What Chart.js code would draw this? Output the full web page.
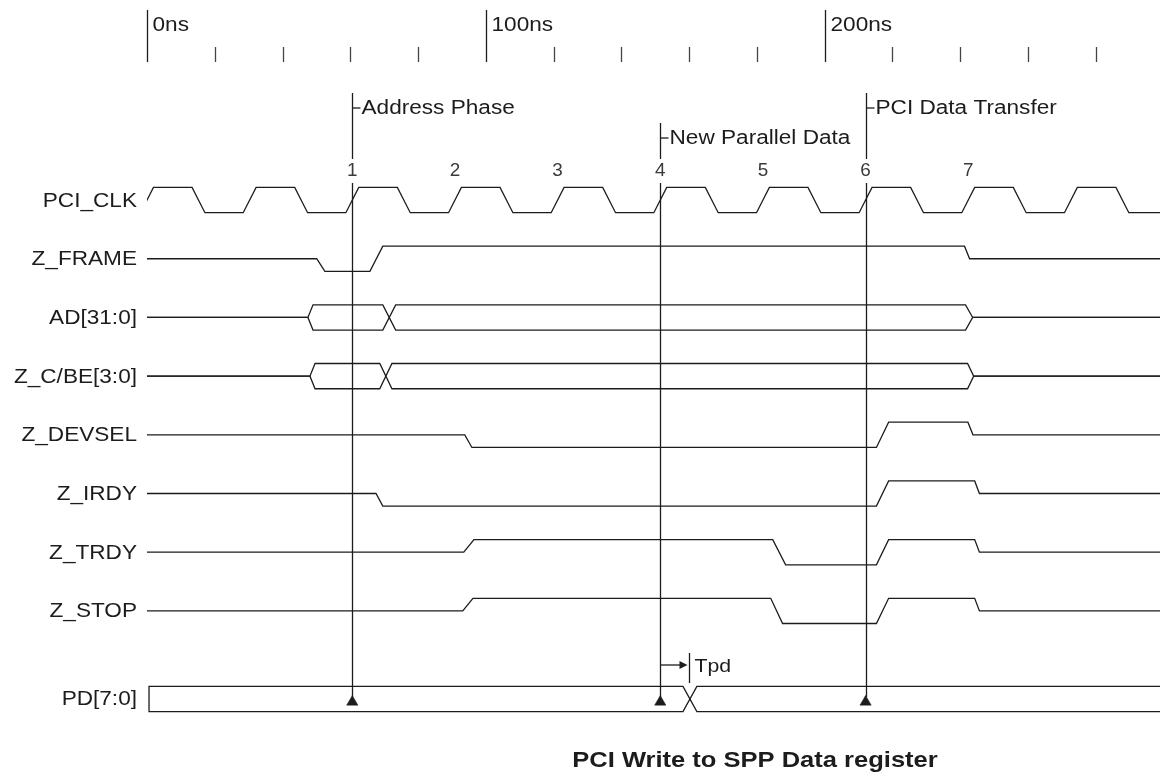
<!DOCTYPE html>
<html>
<head>
<meta charset="utf-8">
<script src="https://cdn.jsdelivr.net/npm/chart.js@4/dist/chart.umd.min.js"></script>
<style>
  html, body { margin: 0; padding: 0; background: #fff; }
</style>
</head>
<body>
<canvas id="timing" width="1160" height="777"></canvas>
<script>
// time ruler (ns)
const rulerMajor = [0, 100, 200];
const rulerLabels = ['0ns', '100ns', '200ns'];
const rulerMinor = [20, 40, 60, 80, 120, 140, 160, 180, 220, 240, 260, 280];

const signalNames = ['PCI_CLK', 'Z_FRAME', 'AD[31:0]', 'Z_C/BE[3:0]', 'Z_DEVSEL', 'Z_IRDY', 'Z_TRDY', 'Z_STOP', 'PD[7:0]'];
const signalRows = [0, 1, 2, 3, 4, 5, 6, 7, 8.5];

// 33MHz clock, edge centres in ns
const clkRise = [0, 30.3, 60.6, 90.9, 121.2, 151.5, 181.8, 212.1, 242.4, 272.7];
const clkFall = [15.2, 45.5, 75.8, 106.1, 136.4, 166.7, 197.0, 227.3, 257.6, 287.9];

// [edge start, edge end, new level]  H / L / Z
const frameEdges = [[50.1, 52.5, 'L'], [65.8, 69.6, 'H'], [241.3, 242.8, 'Z']];
const devselEdges = [[93.8, 95.9, 'L'], [215.3, 218.9, 'H'], [242.3, 243.8, 'Z']];
const irdyEdges = [[67.6, 69.6, 'L'], [215.3, 218.9, 'H'], [244.3, 245.7, 'Z']];
const trdyEdges = [[93.5, 96.5, 'H'], [184.7, 188.5, 'L'], [215.3, 218.9, 'H'], [244.3, 245.7, 'Z']];
const stopEdges = [[93.2, 96.2, 'H'], [184.1, 187.6, 'L'], [215.3, 218.9, 'H'], [244.3, 245.7, 'Z']];

// buses: V = valid, Z = tri-state, V after V = crossing
const adEdges = [[47.5, 49.0, 'V'], [69.6, 73.4, 'V'], [241.6, 243.7, 'Z']];
const cbeEdges = [[48.1, 49.6, 'V'], [68.7, 72.3, 'V'], [242.2, 244.0, 'Z']];
const pdEdges = [[0.6, 0.6, 'V'], [158.2, 162.3, 'V']];

const cursorTimes = [60.6, 151.5, 212.1];
const cursorNames = ['Address Phase', 'New Parallel Data', 'PCI Data Transfer'];
const cursorTier = [0, 1, 0];
const clockNumbers = ['1', '2', '3', '4', '5', '6', '7'];
const clockNumberTimes = [60.6, 90.9, 121.2, 151.5, 181.8, 212.1, 242.4];
const tpdSpan = [151.5, 160];
const tpdLabel = 'Tpd';
const chartTitle = 'PCI Write to SPP Data register';

const T_END = 299;
const AMP = 0.215;
const INK = '#1c1c1c';
const FONT = '"Liberation Sans", Arial, sans-serif';

function levelY(row, lv) {
  if (lv === 'H') return row - AMP;
  if (lv === 'L') return row + AMP;
  return row;
}

function digitalWave(row, edges, start) {
  const from = Math.min(0, edges[0][0]);
  const pts = [{ x: from, y: levelY(row, start) }];
  let cur = start;
  edges.forEach(([t0, t1, lv]) => {
    pts.push({ x: t0, y: levelY(row, cur) });
    pts.push({ x: t1, y: levelY(row, lv) });
    cur = lv;
  });
  pts.push({ x: T_END, y: levelY(row, cur) });
  return pts;
}

function clockWave(row) {
  const edges = [];
  clkRise.forEach(t => edges.push([t - 1.9, t + 1.9, 'H']));
  clkFall.forEach(t => edges.push([t - 1.9, t + 1.9, 'L']));
  edges.sort((a, b) => a[0] - b[0]);
  return digitalWave(row, edges, 'L');
}

function busWave(row, edges, side) {
  let s = side, cur = 'Z';
  const yOf = st => st === 'Z' ? row : row - AMP * s;
  const from = edges[0][0] < 1 ? edges[0][0] : 0;
  const pts = [{ x: from, y: row }];
  edges.forEach(([t0, t1, st]) => {
    pts.push({ x: t0, y: yOf(cur) });
    if (cur === 'V' && st === 'V') s = -s;
    pts.push({ x: t1, y: yOf(st) });
    cur = st;
  });
  pts.push({ x: T_END, y: yOf(cur) });
  return pts;
}

function wire(data) {
  return { data, borderColor: INK, borderWidth: 1.3, pointRadius: 0, fill: false, tension: 0 };
}

const datasets = [
  wire(clockWave(signalRows[0])),
  wire(digitalWave(signalRows[1], frameEdges, 'Z')),
  wire(busWave(signalRows[2], adEdges, 1)),
  wire(busWave(signalRows[2], adEdges, -1)),
  wire(busWave(signalRows[3], cbeEdges, 1)),
  wire(busWave(signalRows[3], cbeEdges, -1)),
  wire(digitalWave(signalRows[4], devselEdges, 'Z')),
  wire(digitalWave(signalRows[5], irdyEdges, 'Z')),
  wire(digitalWave(signalRows[6], trdyEdges, 'Z')),
  wire(digitalWave(signalRows[7], stopEdges, 'Z')),
  wire(busWave(signalRows[8], pdEdges, 1)),
  wire(busWave(signalRows[8], pdEdges, -1)),
  {
    data: cursorTimes.map(t => ({ x: t, y: signalRows[8] + 0.05 })),
    showLine: false,
    pointStyle: 'triangle',
    pointRadius: 6.5,
    pointBackgroundColor: INK,
    pointBorderColor: INK,
    pointBorderWidth: 0.5
  }
];

function stretchText(ctx, str, x, y, o) {
  ctx.save();
  ctx.font = o.font;
  ctx.fillStyle = o.color || INK;
  ctx.textAlign = o.align || 'left';
  ctx.textBaseline = 'middle';
  ctx.translate(x, y);
  ctx.scale(o.sx || 1.13, 1);
  ctx.fillText(str, 0, 0);
  ctx.restore();
}

function seg(ctx, x0, y0, x1, y1) {
  ctx.beginPath();
  ctx.moveTo(x0, y0);
  ctx.lineTo(x1, y1);
  ctx.stroke();
}

const decor = {
  id: 'decor',
  afterDatasetsDraw(chart) {
    const ctx = chart.ctx;
    const xs = chart.scales.x, ys = chart.scales.y;
    const px = t => Math.round(xs.getPixelForValue(t)) + 0.5;
    ctx.save();
    ctx.lineWidth = 1.3;
    ctx.strokeStyle = INK;

    // ruler
    rulerMajor.forEach((t, i) => {
      seg(ctx, px(t), 10, px(t), 62);
      stretchText(ctx, rulerLabels[i], px(t) + 5, 25, { font: '20px ' + FONT });
    });
    ctx.strokeStyle = '#444';
    rulerMinor.forEach(t => seg(ctx, px(t), 47, px(t), 62));
    ctx.strokeStyle = INK;

    // signal names
    signalNames.forEach((n, i) => {
      stretchText(ctx, n, 137, ys.getPixelForValue(signalRows[i]) + 1, { font: '20px ' + FONT, align: 'right' });
    });

    // cursors
    const bottom = ys.getPixelForValue(signalRows[8]) - 2;
    cursorTimes.forEach((t, i) => {
      const x = px(t);
      const top = 93 + cursorTier[i] * 30;
      const ly = 108 + cursorTier[i] * 30;
      seg(ctx, x, top, x, 159);
      seg(ctx, x, 183, x, bottom);
      seg(ctx, x, ly, x + 8, ly);
      stretchText(ctx, cursorNames[i], x + 9, ly, { font: '20px ' + FONT });
    });

    // clock cycle numbers
    clockNumbers.forEach((n, i) => {
      stretchText(ctx, n, xs.getPixelForValue(clockNumberTimes[i]), 171, { font: '18px ' + FONT, align: 'center', color: '#3a3a3a', sx: 1.05 });
    });

    // Tpd marker
    const a = px(tpdSpan[0]), b = px(tpdSpan[1]);
    seg(ctx, a, 665, b - 6, 665);
    ctx.fillStyle = INK;
    ctx.beginPath();
    ctx.moveTo(b - 2, 665);
    ctx.lineTo(b - 10, 661);
    ctx.lineTo(b - 10, 669);
    ctx.closePath();
    ctx.fill();
    seg(ctx, b, 653, b, 683);
    stretchText(ctx, tpdLabel, b + 5, 667, { font: '19px ' + FONT, sx: 1.12 });

    // title
    stretchText(ctx, chartTitle, 755, 761, { font: 'bold 22px ' + FONT, align: 'center', sx: 1.16 });
    ctx.restore();
  }
};

new Chart(document.getElementById('timing'), {
  type: 'line',
  data: { datasets },
  options: {
    responsive: false,
    animation: false,
    devicePixelRatio: 1,
    layout: { autoPadding: false, padding: { left: 147, right: 0, top: 24, bottom: 0 } },
    plugins: { legend: { display: false }, tooltip: { enabled: false } },
    scales: {
      x: { type: 'linear', min: 0, max: T_END, display: false },
      y: { type: 'linear', min: -3, max: 9.83, reverse: true, display: false }
    }
  },
  plugins: [decor]
});
</script>
</body>
</html>
